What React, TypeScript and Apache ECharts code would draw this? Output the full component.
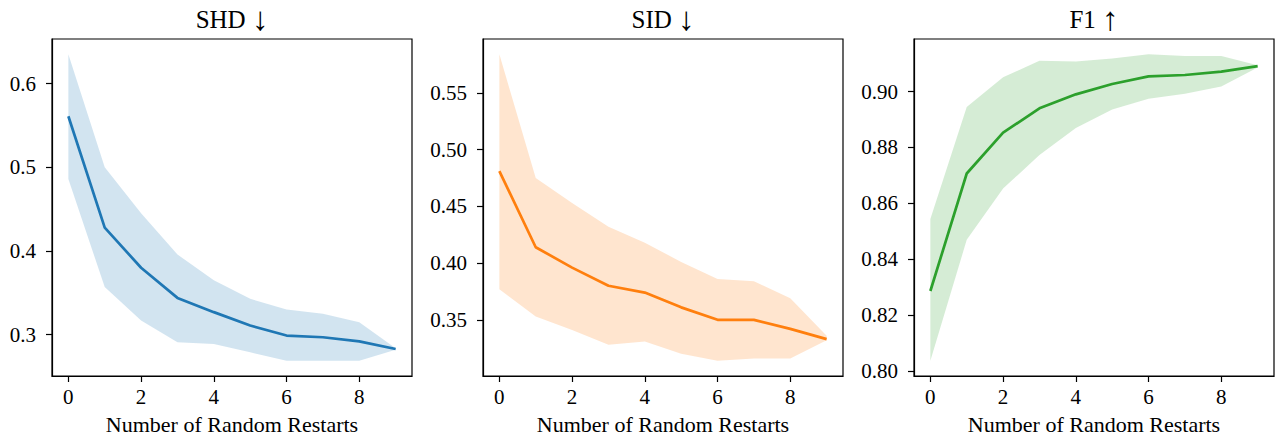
import React, { useEffect, useRef } from "react";
import * as echarts from "echarts";

const restarts = [0, 1, 2, 3, 4, 5, 6, 7, 8, 9];
const xTicks = [0, 2, 4, 6, 8];
const xLabel = "Number of Random Restarts";

const titleNames = ["SHD", "SID", "F1"];
const titleArrows = ["↓", "↓", "↑"];
const colors = ["#1f77b4", "#ff7f0e", "#2ca02c"];
const bandColors = ["rgba(31,119,180,0.2)", "rgba(255,127,14,0.2)", "rgba(44,160,44,0.2)"];

const shdMean = [0.561, 0.428, 0.38, 0.344, 0.327, 0.311, 0.299, 0.297, 0.292, 0.283];
const shdUpper = [0.635, 0.5, 0.445, 0.396, 0.365, 0.343, 0.33, 0.325, 0.315, 0.284];
const shdLower = [0.486, 0.357, 0.317, 0.291, 0.289, 0.279, 0.269, 0.269, 0.269, 0.282];
const shdTicks = [0.3, 0.4, 0.5, 0.6];

const sidMean = [0.481, 0.414, 0.396, 0.38, 0.374, 0.361, 0.35, 0.35, 0.342, 0.333];
const sidUpper = [0.584, 0.475, 0.453, 0.432, 0.418, 0.401, 0.386, 0.384, 0.369, 0.336];
const sidLower = [0.377, 0.353, 0.341, 0.328, 0.331, 0.32, 0.314, 0.316, 0.316, 0.332];
const sidTicks = [0.35, 0.4, 0.45, 0.5, 0.55];

const f1Mean = [0.8287, 0.8707, 0.8853, 0.894, 0.899, 0.9027, 0.9054, 0.9059, 0.9071, 0.9091];
const f1Upper = [0.8544, 0.8945, 0.9051, 0.911, 0.9107, 0.9118, 0.9133, 0.9127, 0.9127, 0.9094];
const f1Lower = [0.8038, 0.847, 0.8653, 0.8773, 0.887, 0.8936, 0.8974, 0.8992, 0.9018, 0.9086];
const f1Ticks = [0.8, 0.82, 0.84, 0.86, 0.88, 0.9];

const panels = [
  { mean: shdMean, upper: shdUpper, lower: shdLower, ticks: shdTicks, decimals: 1 },
  { mean: sidMean, upper: sidUpper, lower: sidLower, ticks: sidTicks, decimals: 2 },
  { mean: f1Mean, upper: f1Upper, lower: f1Lower, ticks: f1Ticks, decimals: 2 },
];

const FONT = "'Liberation Serif', 'Times New Roman', 'DejaVu Serif', serif";
const gridLefts = [52, 483, 914];
const GRID_W = 360;
const GRID_TOP = 39;
const GRID_H = 340;

export default function App() {
  const ref = useRef<HTMLDivElement>(null);

  useEffect(() => {
    if (!ref.current) return;
    const chart = echarts.init(ref.current, null, { renderer: "svg" });

    const grids: any[] = [];
    const xAxes: any[] = [];
    const yAxes: any[] = [];
    const series: any[] = [];
    const graphics: any[] = [];

    panels.forEach((p, i) => {
      const lo = Math.min(...p.lower);
      const hi = Math.max(...p.upper);
      const pad = (hi - lo) * 0.05;
      grids.push({
        left: gridLefts[i],
        top: GRID_TOP,
        width: GRID_W,
        height: GRID_H,
        show: true,
        borderColor: "#000",
        borderWidth: 1.2,
        backgroundColor: "transparent",
      });
      xAxes.push({
        type: "value",
        gridIndex: i,
        min: -0.45,
        max: 9.45,
        splitLine: { show: false },
        axisLine: { show: true, onZero: false, lineStyle: { color: "#000", width: 1.2 } },
        axisTick: { show: true, length: 6, customValues: xTicks, lineStyle: { color: "#000", width: 1.2 } },
        axisLabel: {
          customValues: xTicks,
          fontFamily: FONT,
          fontSize: 21,
          color: "#000",
          margin: 10,
        },
        name: xLabel,
        nameLocation: "middle",
        nameGap: 37,
        nameTextStyle: { fontFamily: FONT, fontSize: 22, color: "#000" },
      });
      yAxes.push({
        type: "value",
        gridIndex: i,
        min: lo - pad,
        max: hi + pad,
        splitLine: { show: false },
        axisLine: { show: true, onZero: false, lineStyle: { color: "#000", width: 1.2 } },
        axisTick: { show: true, length: 6, customValues: p.ticks, lineStyle: { color: "#000", width: 1.2 } },
        axisLabel: {
          customValues: p.ticks,
          formatter: (v: number) => v.toFixed(p.decimals),
          fontFamily: FONT,
          fontSize: 21,
          color: "#000",
          margin: 16,
        },
      });
      const xs = restarts;
      series.push({
        type: "custom",
        xAxisIndex: i,
        yAxisIndex: i,
        silent: true,
        z: 1,
        data: xs.map((x, j) => [x, p.lower[j], p.upper[j]]),
        encode: { x: 0, y: [1, 2] },
        renderItem: (params: any, api: any) => {
          if (params.dataIndex !== 0) return null;
          const pts: number[][] = [];
          for (let j = 0; j < xs.length; j++) pts.push(api.coord([xs[j], p.upper[j]]));
          for (let j = xs.length - 1; j >= 0; j--) pts.push(api.coord([xs[j], p.lower[j]]));
          return {
            type: "polygon",
            shape: { points: pts },
            style: { fill: bandColors[i], stroke: "none" },
          };
        },
      });
      series.push({
        type: "line",
        xAxisIndex: i,
        yAxisIndex: i,
        z: 2,
        showSymbol: false,
        symbol: "none",
        data: xs.map((x, j) => [x, p.mean[j]]),
        lineStyle: { color: colors[i], width: 2.7 },
        itemStyle: { color: colors[i] },
      });
      graphics.push({
        type: "text",
        x: gridLefts[i] + GRID_W / 2,
        y: 19,
        style: {
          text: `{t|${titleNames[i]}} {a|${titleArrows[i]}}`,
          rich: {
            t: { fontFamily: FONT, fontSize: 25, fill: "#000", color: "#000" },
            a: { fontFamily: FONT, fontSize: 33, fill: "#000", color: "#000" },
          },
          fontFamily: FONT,
          fontSize: 25,
          fill: "#000",
          textAlign: "center",
          textVerticalAlign: "middle",
        },
      });
    });

    chart.setOption({
      animation: false,
      backgroundColor: "#fff",
      grid: grids,
      xAxis: xAxes,
      yAxis: yAxes,
      series,
      graphic: graphics,
    });

    return () => chart.dispose();
  }, []);

  return (
    <div
      ref={ref}
      style={{ position: "fixed", left: 0, top: 0, width: 1275, height: 440, background: "#fff" }}
    />
  );
}
